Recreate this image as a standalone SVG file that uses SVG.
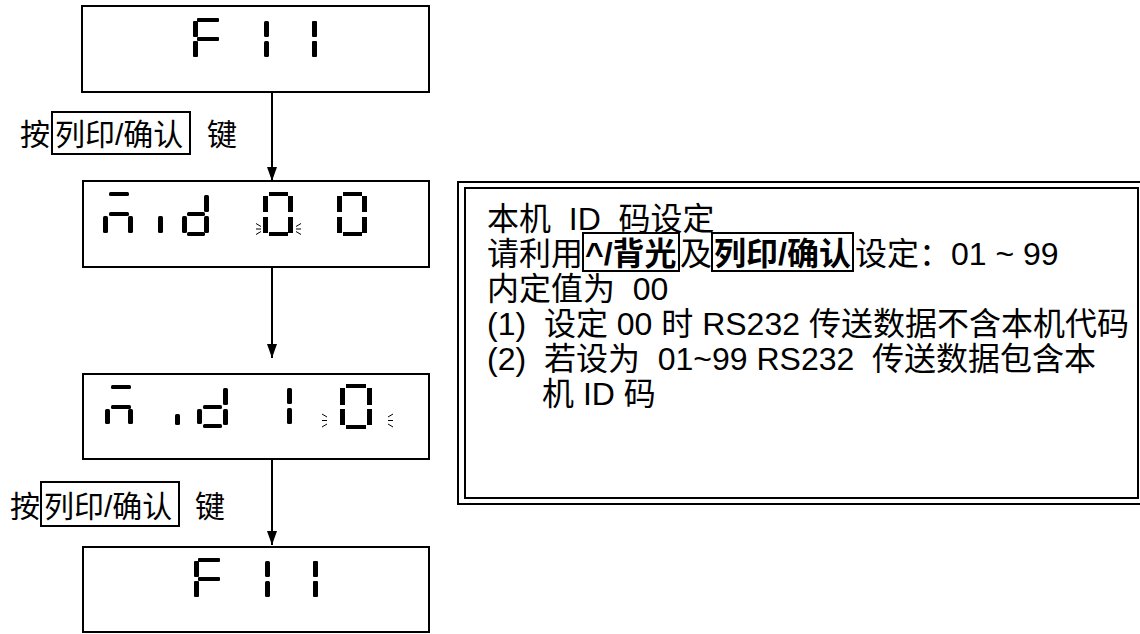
<svg xmlns="http://www.w3.org/2000/svg" width="1140" height="634" viewBox="0 0 1140 634">
<defs>
<style>
.box{fill:#fff;stroke:#000;stroke-width:2}
.seg rect{fill:#000}
.t{font-family:"Liberation Sans","Noto Sans CJK SC",sans-serif;font-size:30px;fill:#000;white-space:pre}
.tb{font-family:"Liberation Sans","Noto Sans CJK SC",sans-serif;font-size:32px;fill:#000;white-space:pre}
.bold{font-weight:bold}
.kb{fill:none;stroke:#000;stroke-width:2}
.conn{stroke:#000;stroke-width:2;fill:none}
.blink{stroke:#000;stroke-width:1;fill:none}
.dbl{fill:none;stroke:#000;stroke-width:2}
</style>
<marker id="ah" markerWidth="14" markerHeight="10" refX="14" refY="5" orient="auto" markerUnits="userSpaceOnUse" viewBox="0 0 14 10">
<path d="M0,0 L14,5 L0,10 z" fill="#000"/>
</marker>
<g id="f11" class="seg">
<rect x="193" y="21" width="5" height="16" rx="1"/>
<rect x="193" y="41" width="5" height="16" rx="1"/>
<rect x="197" y="18" width="22" height="4" rx="1"/>
<rect x="197" y="37" width="22" height="4" rx="1"/>
<rect x="264" y="21" width="5" height="16" rx="1.5"/>
<rect x="264" y="41" width="5" height="16" rx="1.5"/>
<rect x="312" y="21" width="5" height="16" rx="1"/>
<rect x="312" y="41" width="5" height="16" rx="1"/>
</g>
</defs>
<rect width="1140" height="634" fill="#fff"/>

<g id="connectors">
<line class="conn" x1="272" y1="92" x2="272" y2="181" marker-end="url(#ah)"/>
<line class="conn" x1="272" y1="267" x2="272" y2="358" marker-end="url(#ah)"/>
<line class="conn" x1="272" y1="459" x2="272" y2="545" marker-end="url(#ah)"/>
</g>

<g id="node-f11-top">
<rect class="box" x="82" y="6" width="347" height="86"/>
<use href="#f11"/>
</g>

<g id="label-1">
<text class="t" x="20" y="145">按</text>
<rect class="kb" x="52" y="112" width="138" height="42"/>
<text class="t" x="55" y="145">列印/确认</text>
<text class="t" x="207" y="145">键</text>
</g>

<g id="node-nid00">
<rect class="box" x="83" y="181" width="346" height="86"/>
<g class="seg">
<rect x="109" y="192" width="20" height="4" rx="1.5"/>
<rect x="109" y="212" width="20" height="4" rx="1.5"/>
<rect x="103" y="216" width="5" height="17" rx="1.5"/>
<rect x="128" y="216" width="5" height="17" rx="1.5"/>
<rect x="158" y="216" width="5" height="17" rx="1.5"/>
<rect x="182" y="216" width="5" height="17" rx="1.5"/>
<rect x="187" y="212" width="18" height="4" rx="1.5"/>
<rect x="187" y="232" width="18" height="4" rx="1.5"/>
<rect x="204" y="195" width="5" height="17" rx="1.5"/>
<rect x="204" y="216" width="5" height="17" rx="1.5"/>
<rect x="269" y="192" width="19" height="4"/>
<rect x="263" y="196" width="5" height="16"/>
<rect x="263" y="217" width="5" height="16"/>
<rect x="288" y="196" width="5" height="16"/>
<rect x="288" y="217" width="5" height="16"/>
<rect x="269" y="232" width="19" height="4"/>
<rect x="343" y="192" width="19" height="4"/>
<rect x="337" y="196" width="5" height="16"/>
<rect x="337" y="217" width="5" height="16"/>
<rect x="362" y="196" width="5" height="16"/>
<rect x="362" y="217" width="5" height="16"/>
<rect x="343" y="232" width="19" height="4"/>
</g>
<path class="blink" d="M256,223.5 L261,226.5 M256,229 L261,229 M256,234.5 L261,231.5 M301,223.5 L296,226.5 M301,229 L296,229 M301,234.5 L296,231.5"/>
</g>

<g id="node-nid10">
<rect class="box" x="83" y="374" width="346" height="85"/>
<g class="seg">
<rect x="111" y="385" width="20" height="4" rx="1.5"/>
<rect x="111" y="405" width="20" height="4" rx="1.5"/>
<rect x="105" y="409" width="5" height="15" rx="1.5"/>
<rect x="128" y="409" width="5" height="15" rx="1.5"/>
<rect x="175" y="414" width="5" height="11" rx="1.5"/>
<rect x="197" y="409" width="5" height="15" rx="1.5"/>
<rect x="203" y="405" width="19" height="4" rx="1.5"/>
<rect x="203" y="424" width="19" height="4" rx="1.5"/>
<rect x="223" y="388" width="5" height="17" rx="1.5"/>
<rect x="223" y="409" width="5" height="16" rx="1.5"/>
<rect x="287" y="388" width="5" height="16" rx="1.5"/>
<rect x="287" y="408" width="5" height="16" rx="1.5"/>
<rect x="346" y="384" width="20" height="4"/>
<rect x="340" y="388" width="5" height="17"/>
<rect x="340" y="409" width="5" height="16"/>
<rect x="367" y="388" width="5" height="17"/>
<rect x="367" y="409" width="5" height="16"/>
<rect x="346" y="425" width="20" height="4"/>
</g>
<path class="blink" d="M322,414 L327,417 M322,420.5 L327,420.5 M322,427 L327,424 M393,414 L388,417 M393,420.5 L388,420.5 M393,427 L388,424"/>
</g>

<g id="label-2">
<text class="t" x="10" y="517">按</text>
<rect class="kb" x="41" y="482" width="138" height="44"/>
<text class="t" x="44" y="517">列印/确认</text>
<text class="t" x="195" y="517">键</text>
</g>

<g id="node-f11-bottom">
<rect class="box" x="83" y="547" width="346" height="85"/>
<use href="#f11" transform="translate(1,540)"/>
</g>

<g id="note">
<rect class="dbl" x="458" y="182" width="700" height="322"/>
<rect class="dbl" x="465" y="188" width="673" height="310"/>
<rect x="1137" y="188" width="2" height="310" fill="#000"/>
<text class="tb" x="487" y="230">本机  ID  码设定</text>
<text class="tb" x="487" y="265">请利用</text>
<rect class="kb" x="583" y="233" width="96" height="38"/>
<text class="tb bold" x="585" y="265">^/背光</text>
<text class="tb" x="680" y="265">及</text>
<rect class="kb" x="712" y="233" width="141" height="38"/>
<text class="tb bold" x="714" y="265">列印/确认</text>
<text class="tb" x="855" y="265">设定：01 ~ 99</text>
<text class="tb" x="487" y="300">内定值为  00</text>
<text class="tb" x="487" y="335">(1)  设定 00 时 RS232 传送数据不含本机代码</text>
<text class="tb" x="487" y="370">(2)  若设为  01~99 RS232  传送数据包含本</text>
<text class="tb" x="542" y="405">机 ID 码</text>
</g>
</svg>
